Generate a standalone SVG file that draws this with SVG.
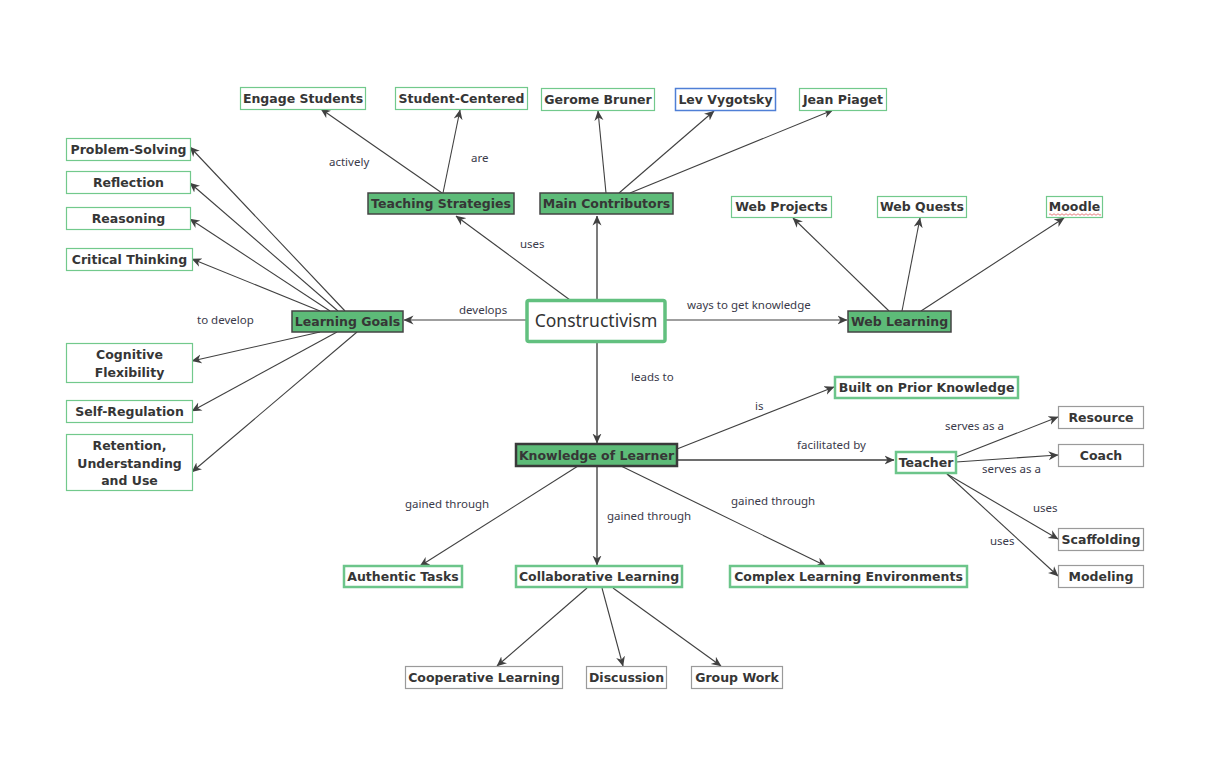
<svg xmlns="http://www.w3.org/2000/svg" width="1221" height="773" viewBox="0 0 1221 773">
<defs>
<marker id="arr" markerUnits="userSpaceOnUse" markerWidth="10" markerHeight="10" viewBox="0 0 10 10" refX="9.5" refY="5" orient="auto">
<path d="M0,0.5 L10,5 L0,9.5 L3,5 z" fill="#404040"/>
</marker>
<style>
.e{stroke:#404040;stroke-width:1.1;fill:none;marker-end:url(#arr)}
.eg{stroke:#6e6e6e;stroke-width:1.8;fill:none;marker-end:url(#arr)}
.lb{font-family:"Noto Sans","Open Sans",sans-serif;font-size:11.5px;fill:#3a3a4a}
.t{font-family:"DejaVu Sans",Verdana,sans-serif;font-weight:bold;font-size:12.5px;fill:#363636;text-anchor:middle}
.main{fill:#5dbb78;stroke:#444;stroke-width:1.5}
.mainb{fill:#5dbb78;stroke:#3a3a3a;stroke-width:2.5}
.g1{fill:#fff;stroke:#72c98c;stroke-width:1.2}
.g2{fill:#fff;stroke:#6cc58a;stroke-width:2.5}
.gr{fill:#fff;stroke:#9a9a9a;stroke-width:1.2}
.bl{fill:#fff;stroke:#4f7fd6;stroke-width:1.5}
</style>
</defs>
<rect width="1221" height="773" fill="#fff"/>
<g id="connectors">
<line class="e" x1="570" y1="300" x2="456" y2="216"/>
<line class="eg" x1="597" y1="300" x2="597" y2="216"/>
<line class="e" x1="526" y1="320" x2="404" y2="320"/>
<line class="e" x1="666" y1="320" x2="847" y2="320"/>
<line class="eg" x1="597" y1="343" x2="597" y2="443"/>
<line class="e" x1="442" y1="193" x2="321" y2="109"/>
<line class="e" x1="443" y1="193" x2="460" y2="110"/>
<line class="e" x1="606" y1="193" x2="598" y2="111"/>
<line class="e" x1="619" y1="193" x2="714" y2="111"/>
<line class="e" x1="630" y1="193" x2="833" y2="110"/>
<line class="e" x1="889" y1="311" x2="793" y2="218"/>
<line class="e" x1="902" y1="311" x2="920" y2="218"/>
<line class="e" x1="921" y1="311" x2="1064" y2="218"/>
<line class="e" x1="345" y1="311" x2="190" y2="147"/>
<line class="e" x1="338" y1="311" x2="190" y2="183"/>
<line class="e" x1="330" y1="311" x2="190" y2="219"/>
<line class="e" x1="320" y1="311" x2="192" y2="259"/>
<line class="e" x1="320" y1="332" x2="192" y2="361"/>
<line class="e" x1="337" y1="332" x2="192" y2="411"/>
<line class="e" x1="357" y1="332" x2="192" y2="472"/>
<line class="e" x1="677" y1="449" x2="834" y2="387"/>
<line class="eg" x1="677" y1="460" x2="894" y2="460"/>
<line class="e" x1="578" y1="466" x2="420" y2="566"/>
<line class="eg" x1="597" y1="466" x2="597" y2="565"/>
<line class="e" x1="621" y1="466" x2="826" y2="566"/>
<line class="e" x1="956" y1="457" x2="1058" y2="417"/>
<line class="e" x1="956" y1="462" x2="1058" y2="455"/>
<line class="e" x1="947" y1="474" x2="1058" y2="539"/>
<line class="e" x1="947" y1="474" x2="1058" y2="576"/>
<line class="e" x1="587" y1="588" x2="497" y2="666"/>
<line class="e" x1="602" y1="588" x2="623" y2="666"/>
<line class="e" x1="613" y1="588" x2="721" y2="666"/>
</g>
<g id="edge-labels">
<text class="lb" x="329" y="166">actively</text>
<text class="lb" x="471" y="162">are</text>
<text class="lb" x="520" y="248">uses</text>
<text class="lb" x="459" y="314">develops</text>
<text class="lb" x="197" y="324">to develop</text>
<text class="lb" x="687" y="309">ways to get knowledge</text>
<text class="lb" x="631" y="381">leads to</text>
<text class="lb" x="755" y="410">is</text>
<text class="lb" x="797" y="449">facilitated by</text>
<text class="lb" x="945" y="430">serves as a</text>
<text class="lb" x="982" y="473">serves as a</text>
<text class="lb" x="1033" y="512">uses</text>
<text class="lb" x="990" y="545">uses</text>
<text class="lb" x="405" y="508">gained through</text>
<text class="lb" x="607" y="520">gained through</text>
<text class="lb" x="731" y="505">gained through</text>
</g>
<g id="n-constructivism"><rect x="527" y="300.5" width="138" height="41" rx="2" fill="#fff" stroke="#62c07f" stroke-width="3.5"/><text x="596" y="327" font-family="'Noto Sans','Open Sans',sans-serif" font-size="17.5" fill="#333" text-anchor="middle">Constructivism</text></g>
<g id="n-teaching-strategies"><rect class="main" x="368" y="193" width="146" height="21"/><text class="t" x="441" y="208">Teaching Strategies</text></g>
<g id="n-main-contributors"><rect class="main" x="540" y="193" width="133" height="21"/><text class="t" x="606.5" y="208">Main Contributors</text></g>
<g id="n-learning-goals"><rect class="main" x="292" y="311" width="111" height="21"/><text class="t" x="347.5" y="326">Learning Goals</text></g>
<g id="n-web-learning"><rect class="main" x="848" y="311" width="103" height="21"/><text class="t" x="899.5" y="326">Web Learning</text></g>
<g id="n-knowledge"><rect class="mainb" x="516" y="444" width="161" height="22"/><text class="t" x="596.5" y="460">Knowledge of Learner</text></g>
<g id="n-engage"><rect class="g1" x="240.5" y="87.5" width="125" height="22"/><text class="t" x="303" y="103">Engage Students</text></g>
<g id="n-student-centered"><rect class="g1" x="395.5" y="87.5" width="132" height="22"/><text class="t" x="461.5" y="103">Student-Centered</text></g>
<g id="n-bruner"><rect class="g1" x="541.5" y="88.5" width="113" height="22"/><text class="t" x="598" y="104">Gerome Bruner</text></g>
<g id="n-vygotsky"><rect class="bl" x="675.5" y="88.5" width="100" height="22"/><text class="t" x="725.5" y="104">Lev Vygotsky</text></g>
<g id="n-piaget"><rect class="g1" x="799.5" y="88.5" width="87" height="22"/><text class="t" x="843" y="104">Jean Piaget</text></g>
<g id="n-web-projects"><rect class="g1" x="731.5" y="196.5" width="100" height="21"/><text class="t" x="781.5" y="211">Web Projects</text></g>
<g id="n-web-quests"><rect class="g1" x="877.5" y="196.5" width="89" height="21"/><text class="t" x="922" y="211">Web Quests</text></g>
<g id="n-moodle"><rect class="g1" x="1046.5" y="196.5" width="56" height="21"/><text class="t" x="1074.5" y="211">Moodle</text><path d="M1049,214.5 q1,-1.5 2,0 t2,0 t2,0 t2,0 t2,0 t2,0 t2,0 t2,0 t2,0 t2,0 t2,0 t2,0 t2,0 t2,0 t2,0 t2,0 t2,0 t2,0 t2,0 t2,0 t2,0 t2,0 t2,0 t2,0 t2,0 t2,0" fill="none" stroke="#e06060" stroke-width="0.8"/></g>
<g id="n-problem-solving"><rect class="g1" x="66.5" y="138.5" width="124" height="22"/><text class="t" x="128.5" y="154">Problem-Solving</text></g>
<g id="n-reflection"><rect class="g1" x="66.5" y="171.5" width="124" height="22"/><text class="t" x="128.5" y="187">Reflection</text></g>
<g id="n-reasoning"><rect class="g1" x="66.5" y="207.5" width="124" height="22"/><text class="t" x="128.5" y="223">Reasoning</text></g>
<g id="n-critical-thinking"><rect class="g1" x="66.5" y="248.5" width="126" height="22"/><text class="t" x="129.5" y="264">Critical Thinking</text></g>
<g id="n-cognitive-flexibility"><rect class="g1" x="66.5" y="343.5" width="126" height="39"/><text class="t" x="129.5" y="359">Cognitive</text><text class="t" x="129.5" y="377">Flexibility</text></g>
<g id="n-self-regulation"><rect class="g1" x="66.5" y="400.5" width="126" height="22"/><text class="t" x="129.5" y="416">Self-Regulation</text></g>
<g id="n-retention"><rect class="g1" x="66.5" y="434.5" width="126" height="56"/><text class="t" x="129.5" y="450">Retention,</text><text class="t" x="129.5" y="467.5">Understanding</text><text class="t" x="129.5" y="485">and Use</text></g>
<g id="n-prior-knowledge"><rect class="g2" x="835" y="377" width="183" height="21"/><text class="t" x="926.5" y="392">Built on Prior Knowledge</text></g>
<g id="n-teacher"><rect class="g2" x="896" y="452" width="60" height="21"/><text class="t" x="926" y="467">Teacher</text></g>
<g id="n-resource"><rect class="gr" x="1058.5" y="406.5" width="85" height="22"/><text class="t" x="1101" y="422">Resource</text></g>
<g id="n-coach"><rect class="gr" x="1058.5" y="444.5" width="85" height="22"/><text class="t" x="1101" y="460">Coach</text></g>
<g id="n-scaffolding"><rect class="gr" x="1058.5" y="528.5" width="85" height="22"/><text class="t" x="1101" y="544">Scaffolding</text></g>
<g id="n-modeling"><rect class="gr" x="1058.5" y="565.5" width="85" height="22"/><text class="t" x="1101" y="581">Modeling</text></g>
<g id="n-authentic"><rect class="g2" x="344" y="566" width="118" height="21"/><text class="t" x="403" y="581">Authentic Tasks</text></g>
<g id="n-collaborative"><rect class="g2" x="516" y="566" width="166" height="21"/><text class="t" x="599" y="581">Collaborative Learning</text></g>
<g id="n-complex"><rect class="g2" x="730" y="566" width="237" height="21"/><text class="t" x="848.5" y="581">Complex Learning Environments</text></g>
<g id="n-cooperative"><rect class="gr" x="405.5" y="666.5" width="157" height="22"/><text class="t" x="484" y="682">Cooperative Learning</text></g>
<g id="n-discussion"><rect class="gr" x="586.5" y="666.5" width="80" height="22"/><text class="t" x="626.5" y="682">Discussion</text></g>
<g id="n-group-work"><rect class="gr" x="691.5" y="666.5" width="91" height="22"/><text class="t" x="737" y="682">Group Work</text></g>
</svg>
